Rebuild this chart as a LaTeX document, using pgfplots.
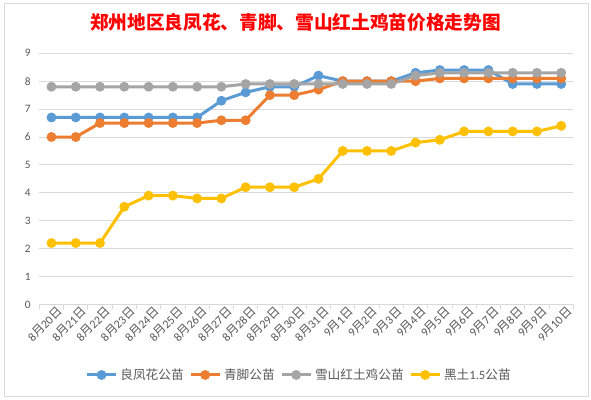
\documentclass[border=0pt]{standalone}
\usepackage{fontspec}
\setmainfont{Carlito}
\newfontfamily\cjk{Noto Sans CJK SC}
\usepackage{pgfplots}
\pgfplotsset{compat=1.18}
\definecolor{cblue}{HTML}{5B9BD5}
\definecolor{corange}{HTML}{ED7D31}
\definecolor{cgrey}{HTML}{A5A5A5}
\definecolor{cyellow}{HTML}{FFC000}
\definecolor{gridc}{HTML}{D9D9D9}
\definecolor{txt}{HTML}{595959}
\def\M{{\cjk 月}}
\def\D{{\cjk 日}}
\pgfplotstableread{
i blue orange grey yellow
0 6.7 6.0 7.8 2.2
1 6.7 6.0 7.8 2.2
2 6.7 6.5 7.8 2.2
3 6.7 6.5 7.8 3.5
4 6.7 6.5 7.8 3.9
5 6.7 6.5 7.8 3.9
6 6.7 6.5 7.8 3.8
7 7.3 6.6 7.8 3.8
8 7.6 6.6 7.9 4.2
9 7.8 7.5 7.9 4.2
10 7.8 7.5 7.9 4.2
11 8.2 7.7 7.9 4.5
12 8.0 8.0 7.9 5.5
13 8.0 8.0 7.9 5.5
14 8.0 8.0 7.9 5.5
15 8.3 8.0 8.2 5.8
16 8.4 8.1 8.3 5.9
17 8.4 8.1 8.3 6.2
18 8.4 8.1 8.3 6.2
19 7.9 8.1 8.3 6.2
20 7.9 8.1 8.3 6.2
21 7.9 8.1 8.3 6.4
}\datatable
\begin{document}
\begin{tikzpicture}
\path[use as bounding box, fill=white] (0pt,0pt) rectangle (443.25pt,299.25pt);
\draw[gridc, line width=0.6pt] (3pt,2.25pt) rectangle (441pt,297pt);
\node[font=\cjk\bfseries\fontsize{14}{16}\selectfont, text=red] at (221.6pt,282.75pt) {郑州地区良凤花、青脚、雪山红土鸡苗价格走势图};
\begin{axis}[
  at={(29.5pt,70.9pt)}, anchor=south west,
  scale only axis, width=400.5pt, height=188.4pt,
  xmin=-0.5, xmax=21.5, ymin=0, ymax=9,
  xtick={0,...,21},
  xticklabels={8\M20\D,8\M21\D,8\M22\D,8\M23\D,8\M24\D,8\M25\D,8\M26\D,8\M27\D,8\M28\D,8\M29\D,8\M30\D,8\M31\D,9\M1\D,9\M2\D,9\M3\D,9\M4\D,9\M5\D,9\M6\D,9\M7\D,9\M8\D,9\M9\D,9\M10\D},
  minor xtick={-0.5,0.5,...,21.5},
  ytick={0,...,9},
  major tick length=0pt, minor tick length=3.5pt, tick align=outside,
  minor tick style={draw=gridc, line width=0.6pt},
  axis x line*=bottom, axis y line*=left,
  y axis line style={draw=none},
  x axis line style={draw=gridc, line width=0.75pt},
  ymajorgrids, major grid style={draw=gridc, line width=0.75pt},
  /pgf/number format/assume math mode=true,
  yticklabel style={font=\fontsize{8.5}{10}\selectfont, text=txt, xshift=-3pt},
  xticklabel style={font=\fontsize{9}{10}\selectfont, text=txt, rotate=45, anchor=east, yshift=-7pt, xshift=3pt, inner sep=1pt},
  every axis plot/.append style={line width=2.25pt, mark=*, mark size=2.5pt, mark options={line width=0pt}},
  legend style={at={(0.4870,-0.2807)}, anchor=center, draw=none, fill=none,
    font=\fontsize{9.5}{11}\selectfont, text=txt,
    /tikz/every even column/.append style={column sep=2pt}},
  legend columns=4,
  legend image code/.code={\draw[mark repeat=2,mark phase=2,#1] plot coordinates {(0pt,0pt)(11pt,0pt)(22pt,0pt)};},
]
\addplot[cblue, mark options={fill=cblue}] table[x=i,y=blue] {\datatable};
\addlegendentry{{\cjk 良凤花公苗}}
\addplot[corange, mark options={fill=corange}] table[x=i,y=orange] {\datatable};
\addlegendentry{{\cjk 青脚公苗}}
\addplot[cgrey, mark options={fill=cgrey}] table[x=i,y=grey] {\datatable};
\addlegendentry{{\cjk 雪山红土鸡公苗}}
\addplot[cyellow, mark options={fill=cyellow}] table[x=i,y=yellow] {\datatable};
\addlegendentry{{\cjk 黑土}1.5{\cjk 公苗}}
\end{axis}
\end{tikzpicture}
\end{document}
